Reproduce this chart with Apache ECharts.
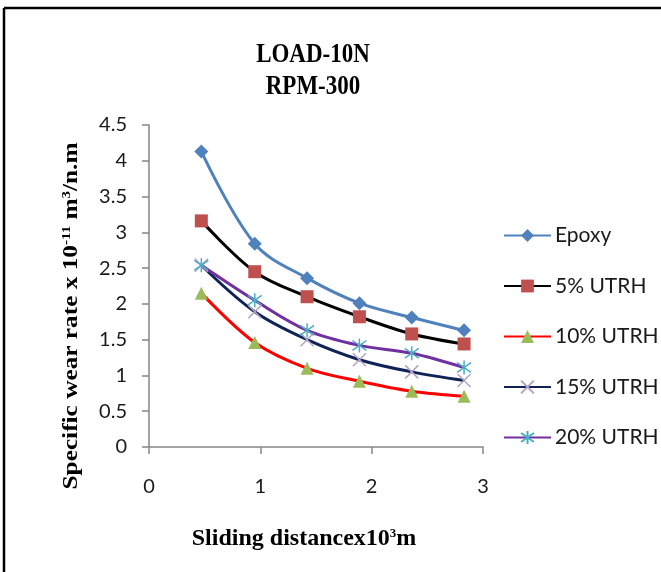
<!DOCTYPE html>
<html><head><meta charset="utf-8">
<script src="https://cdn.jsdelivr.net/npm/echarts@6/dist/echarts.min.js"></script>
<style>html,body{margin:0;padding:0;background:#fff}#c{width:661px;height:572px}</style>
</head><body><div id="c"></div>
<script>
const distance = [0.47, 0.95, 1.42, 1.89, 2.36, 2.83];
const epoxy   = [4.13, 2.84, 2.36, 2.01, 1.81, 1.63];
const utrh5   = [3.16, 2.45, 2.10, 1.82, 1.58, 1.44];
const utrh10  = [2.15, 1.46, 1.10, 0.92, 0.78, 0.71];
const utrh15  = [2.54, 1.89, 1.50, 1.22, 1.05, 0.93];
const utrh20  = [2.54, 2.05, 1.63, 1.42, 1.31, 1.11];
const seriesNames = ['Epoxy', '5% UTRH', '10% UTRH', '15% UTRH', '20% UTRH'];
const yTicks = [0, 0.5, 1, 1.5, 2, 2.5, 3, 3.5, 4, 4.5];
const xTicks = [0, 1, 2, 3];

const pair = ys => distance.map((x, i) => [x, ys[i]]);
const labelFont = 'Lato';
const serif = '"Liberation Serif", "Times New Roman", serif';

function mk(name, ys, lineColor, symbol, itemStyle, size) {
  return {
    name, type: 'line', data: pair(ys), smooth: 0.35,
    symbol, symbolSize: size || 13,
    lineStyle: { color: lineColor, width: 3 },
    itemStyle: itemStyle,
    emphasis: { disabled: true }
  };
}

const chart = echarts.init(document.getElementById('c'), null, { renderer: 'canvas' });
chart.setOption({
  animation: false,
  backgroundColor: '#fff',
  grid: { left: 149, right: 178, top: 125, bottom: 125, containLabel: false },
  xAxis: {
    type: 'value', min: xTicks[0], max: xTicks[xTicks.length - 1], interval: 1,
    axisLine: { show: true, onZero: false, lineStyle: { color: '#868686', width: 1.5 } },
    axisTick: { show: true, length: 7, lineStyle: { color: '#868686', width: 1.5 } },
    axisLabel: { margin: 30, color: '#1a1a1a', fontFamily: labelFont, fontSize: 20 },
    splitLine: { show: false }
  },
  yAxis: {
    type: 'value', min: yTicks[0], max: yTicks[yTicks.length - 1], interval: 0.5,
    axisLine: { show: true, lineStyle: { color: '#868686', width: 1.5 } },
    axisTick: { show: true, length: 7, lineStyle: { color: '#868686', width: 1.5 } },
    axisLabel: { margin: 22, color: '#1a1a1a', fontFamily: labelFont, fontSize: 20 },
    splitLine: { show: false }
  },
  legend: {
    orient: 'vertical', left: 503, top: 225, padding: 0,
    itemWidth: 47, itemHeight: 16, itemGap: 29.5,
    textStyle: { fontFamily: labelFont, fontSize: 21, color: '#1a1a1a', padding: [0, 0, 0, -1] },
    data: seriesNames
  },
  series: [
    mk(seriesNames[0], epoxy, '#4F81BD', 'diamond', { color: '#4F81BD' }, 14),
    mk(seriesNames[1], utrh5, '#000000', 'rect', { color: '#C0504D' }, 13),
    mk(seriesNames[2], utrh10, '#FF0000', 'triangle', { color: '#9BBB59' }, 13),
    mk(seriesNames[3], utrh15, '#0F2357', 'path://M0,0L10,10M10,0L0,10',
       { color: 'transparent', borderColor: '#B3A2C7', borderWidth: 1.5 }, 13),
    mk(seriesNames[4], utrh20, '#7030A0', 'path://M5,0L5,10M0,1.5L10,8.5M10,1.5L0,8.5',
       { color: 'transparent', borderColor: '#4BACC6', borderWidth: 1.5 }, 14)
  ],
  graphic: [
    { type: 'line', shape: { x1: 4, y1: 8, x2: 661, y2: 8 }, style: { stroke: '#000', lineWidth: 2.5 } },
    { type: 'line', shape: { x1: 4, y1: 8, x2: 4, y2: 572 }, style: { stroke: '#000', lineWidth: 2.5 } },
    { type: 'text', x: 313, y: 71, scaleY: 1.22, style: {
        text: 'LOAD-10N\nRPM-300', font: 'bold 23px ' + serif, lineHeight: 26,
        textAlign: 'center', textVerticalAlign: 'middle', fill: '#000' } },
    { type: 'text', x: 304, y: 539, style: {
        text: '{b|Sliding distancex10}{s|3}{b|m}', textAlign: 'center', textVerticalAlign: 'middle',
        rich: {
          b: { font: 'bold 24px ' + serif, fill: '#000', verticalAlign: 'bottom' },
          s: { font: 'bold 13px ' + serif, fill: '#000', verticalAlign: 'top', padding: [0, 0, 9, 0] }
        } } },
    { type: 'text', x: 71, y: 316, rotation: Math.PI / 2, scaleX: 1.15, style: {
        text: '{b|Specific wear rate x 10}{s|-11}{b| m}{s|3}{b|/n.m}', textAlign: 'center', textVerticalAlign: 'middle',
        rich: {
          b: { font: 'bold 22px ' + serif, fill: '#000', verticalAlign: 'bottom' },
          s: { font: 'bold 13px ' + serif, fill: '#000', verticalAlign: 'top', padding: [0, 0, 9, 0] }
        } } }
  ]
});
</script></body></html>
